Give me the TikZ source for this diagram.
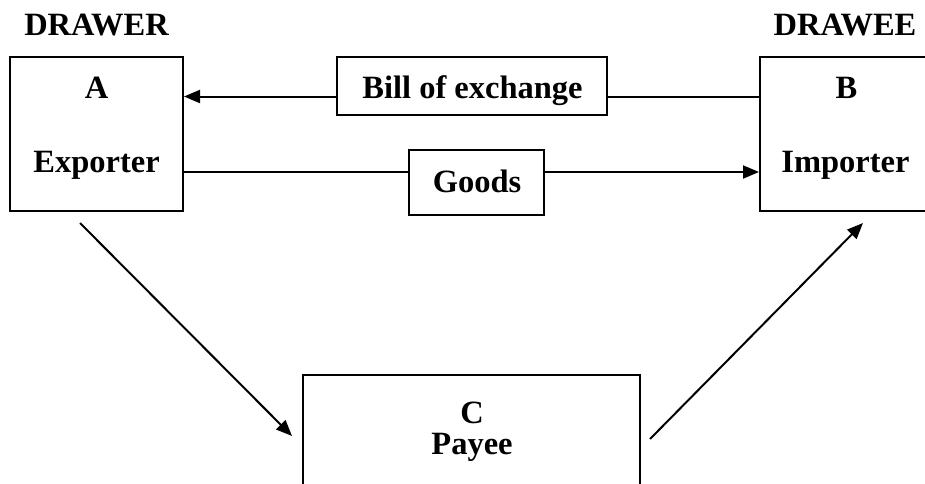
\documentclass[tikz,border=0pt]{standalone}
\usepackage{fontspec}
\setmainfont{Liberation Serif}
\usetikzlibrary{arrows.meta}
\begin{document}
\begin{tikzpicture}[x=1pt,y=-1pt,
  box/.style={draw,line width=2pt,rectangle,inner sep=0pt},
  lbl/.style={inner sep=0pt,anchor=base,font=\fontsize{32.5}{38}\selectfont\bfseries},
  conn/.style={line width=2pt},
  arr/.style={conn,-{Triangle[length=16pt,width=13pt]}}]
\useasboundingbox (0,0) rectangle (925,483);
\clip (0,0) rectangle (925,483);
% boxes
\node[box,minimum width=173,minimum height=154] (A) at (96.5,134) {};
\node[box,minimum width=172,minimum height=154] (B) at (846,134) {};
\node[box,minimum width=270,minimum height=58] (bill) at (472,86) {};
\node[box,minimum width=135,minimum height=65] (goods) at (476.5,182.5) {};
\node[box,minimum width=337,minimum height=160] (C) at (471.5,455) {};
% texts
\node[lbl] (drawer) at (96.5,35) {DRAWER};
\node[lbl] (drawee) at (845,35) {DRAWEE};
\node[lbl] (ta) at (96.5,98) {A};
\node[lbl] (texp) at (96.5,172) {Exporter};
\node[lbl] (tb) at (846.5,98) {B};
\node[lbl] (timp) at (845.5,172) {Importer};
\node[lbl] (tbill) at (472.5,98) {Bill of exchange};
\node[lbl] (tgoods) at (477,192) {Goods};
\node[lbl,align=center,font=\fontsize{32.5}{31}\selectfont\bfseries] (tc) at (472,454) {C\\Payee};
% connector levels
\coordinate (by) at (0,96.5);
\coordinate (gy) at (0,172);
\draw[conn] (B.west |- by) -- (bill.east |- by);
\draw[arr] (bill.west |- by) -- (A.east |- by);
\draw[conn] (A.east |- gy) -- (goods.west |- gy);
\draw[arr] (goods.east |- gy) -- (B.west |- gy);
% diagonal arrows
\coordinate (a1) at (80,223);
\coordinate (c1) at (292,436);
\coordinate (c2) at (650,439);
\coordinate (b1) at (863,223);
\draw[arr] (a1) -- (c1);
\draw[arr] (c2) -- (b1);
\end{tikzpicture}
\end{document}
